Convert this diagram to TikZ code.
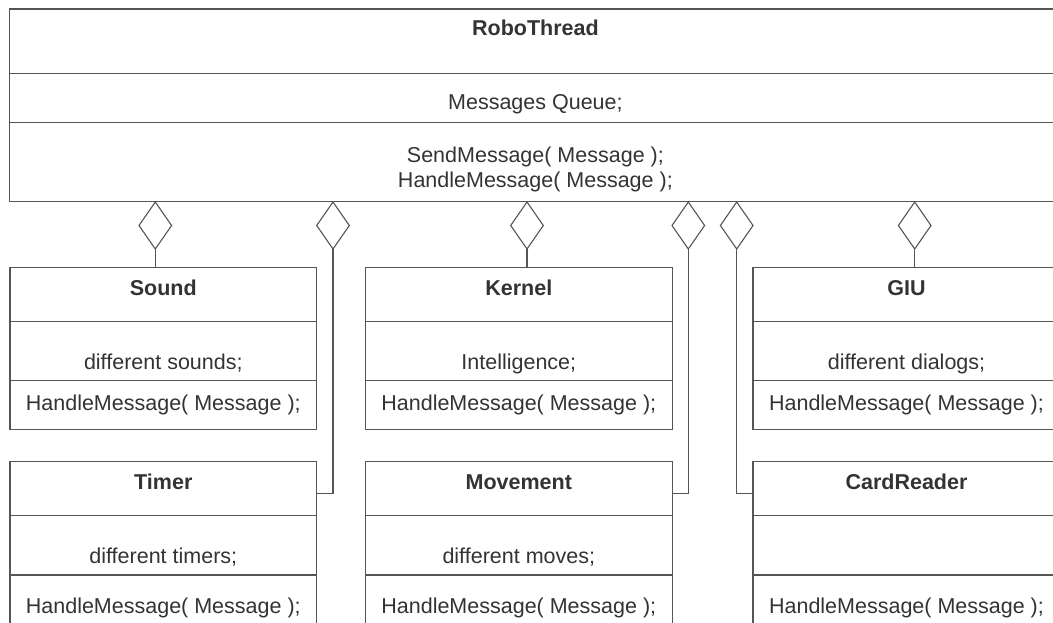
\documentclass[tikz,border=0pt]{standalone}
\usepackage{fontspec}
\setmainfont{Liberation Sans}
\usepackage{tikz}
\usetikzlibrary{shapes.geometric}
\definecolor{umlline}{HTML}{555555}
\definecolor{umltext}{HTML}{333333}

\begin{document}
\begin{tikzpicture}[
  classbox/.style={draw=umlline,line width=1.1pt,anchor=north west,
                   inner sep=0pt,outer sep=0pt},
  agg/.style={draw=umlline,line width=1.1pt,diamond,anchor=north,
              inner sep=0pt,outer sep=0pt,
              minimum width=32.6pt,minimum height=47pt},
  link/.style={draw=umlline,line width=1.1pt},
  sep/.style={draw=umlline,line width=1.1pt},
  cname/.style={font=\fontsize{21.5}{25}\selectfont\bfseries,
                text=umltext,anchor=base,inner sep=0pt},
  ctext/.style={font=\fontsize{21.5}{25}\selectfont,
                text=umltext,anchor=base,inner sep=0pt},
  x=1pt,y=-1pt
]
\useasboundingbox (0,0) rectangle (1053,623);
\clip (0,0) rectangle (1053,623);

% RoboThread
\node[classbox,minimum width=1051.3pt,minimum height=192.7pt] (robo) at (9.7,9) {};
\draw[sep] (robo.north west) ++(0,64.7)  -- ++(1051.3,0);
\draw[sep] (robo.north west) ++(0,113.3) -- ++(1051.3,0);
\node[cname] (roboName)   at (535.4,35.7)  {RoboThread};
\node[ctext] (roboQueue)  at (535.4,109.5) {Messages Queue;};
\node[ctext] (roboSend)   at (535.4,162.2) {SendMessage( Message );};
\node[ctext] (roboHandle) at (535.4,187.2) {HandleMessage( Message );};

% upper row
\node[classbox,minimum width=306.7pt,minimum height=161.6pt] (sound)  at (10,267.7)  {};
\node[classbox,minimum width=307pt,minimum height=161.6pt]   (kernel) at (365.3,267.7) {};
\node[classbox,minimum width=307pt,minimum height=161.6pt]   (giu)    at (753,267.7)  {};
\draw[sep] (sound.north west)  ++(0,54)  -- ++(306.7,0);
\draw[sep] (sound.north west)  ++(0,113) -- ++(306.7,0);
\draw[sep] (kernel.north west) ++(0,54)  -- ++(307,0);
\draw[sep] (kernel.north west) ++(0,113) -- ++(307,0);
\draw[sep] (giu.north west)    ++(0,54)  -- ++(307,0);
\draw[sep] (giu.north west)    ++(0,113) -- ++(307,0);

\node[cname] (soundName)   at (163.3,295)   {Sound};
\node[ctext] (soundAttr)   at (163.3,369)   {different sounds;};
\node[ctext] (soundOp)     at (163.3,410.5) {HandleMessage( Message );};
\node[cname] (kernelName)  at (518.8,295)   {Kernel};
\node[ctext] (kernelAttr)  at (518.8,369)   {Intelligence;};
\node[ctext] (kernelOp)    at (518.8,410.5) {HandleMessage( Message );};
\node[cname] (giuName)     at (906.5,295)   {GIU};
\node[ctext] (giuAttr)     at (906.5,369)   {different dialogs;};
\node[ctext] (giuOp)       at (906.5,410.5) {HandleMessage( Message );};

% lower row
\node[classbox,minimum width=306.7pt,minimum height=161.6pt] (timer)    at (10,461.7)   {};
\node[classbox,minimum width=307pt,minimum height=161.6pt]   (movement) at (365.3,461.7) {};
\node[classbox,minimum width=307pt,minimum height=161.6pt]   (card)     at (753,461.7)   {};
\draw[sep] (timer.north west)    ++(0,54)    -- ++(306.7,0);
\draw[sep] (timer.north west)    ++(0,113.3) -- ++(306.7,0);
\draw[sep] (movement.north west) ++(0,54)    -- ++(307,0);
\draw[sep] (movement.north west) ++(0,113.3) -- ++(307,0);
\draw[sep] (card.north west)     ++(0,54)    -- ++(307,0);
\draw[sep] (card.north west)     ++(0,113.3) -- ++(307,0);

\node[cname] (timerName)    at (163.3,489) {Timer};
\node[ctext] (timerAttr)    at (163.3,563) {different timers;};
\node[ctext] (timerOp)      at (163.3,613) {HandleMessage( Message );};
\node[cname] (movementName) at (518.8,489) {Movement};
\node[ctext] (movementAttr) at (518.8,563) {different moves;};
\node[ctext] (movementOp)   at (518.8,613) {HandleMessage( Message );};
\node[cname] (cardName)     at (906.5,489) {CardReader};
\node[ctext] (cardOp)       at (906.5,613) {HandleMessage( Message );};

% aggregation diamonds on RoboThread
\node[agg] (aggSound)    at (155.3,202) {};
\node[agg] (aggTimer)    at (333,202)   {};
\node[agg] (aggKernel)   at (527,202)   {};
\node[agg] (aggMovement) at (688.3,202) {};
\node[agg] (aggCard)     at (736.7,202) {};
\node[agg] (aggGiu)      at (914.7,202) {};

\coordinate (timerJoin)    at (316.7,493.5);
\coordinate (movementJoin) at (672.3,493.5);
\coordinate (cardJoin)     at (753,493.5);

\draw[link] (aggSound.south)  -- (aggSound.south |- sound.north);
\draw[link] (aggKernel.south) -- (aggKernel.south |- kernel.north);
\draw[link] (aggGiu.south)    -- (aggGiu.south |- giu.north);
\draw[link] (aggTimer.south)    |- (timerJoin);
\draw[link] (aggMovement.south) |- (movementJoin);
\draw[link] (aggCard.south)     |- (cardJoin);
\end{tikzpicture}
\end{document}
